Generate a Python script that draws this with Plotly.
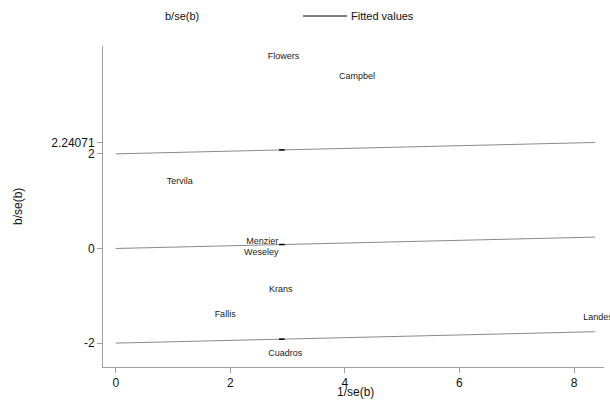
import plotly.graph_objects as go

# Study labels and positions (1/se(b), b/se(b))
studies = ["Flowers", "Campbel", "Tervila", "Menzier", "Weseley", "Krans", "Fallis", "Cuadros", "Landesman"]
inv_se = [2.93, 4.21, 1.12, 2.56, 2.54, 2.88, 1.91, 2.96, 8.16]
z_val = [4.06, 3.64, 1.41, 0.15, -0.08, -0.88, -1.39, -2.23, -1.47]
text_pos = ["middle center"] * 8 + ["middle right"]

# Fitted line (regression through origin) and +/-2 bands
fit_x = [0.0, 8.37]
fit_y = [0.0, 0.24071]
band = 2.0
mark_x = 2.9

x_ticks = [0, 2, 4, 6, 8]
y_ticks = [-2, 0, 2, 2.24071]
y_tick_text = ["-2", "0", "2", "2.24071"]

fig = go.Figure()
line_style = dict(color="#8a8a8a", width=1)
for off in (band, 0.0, -band):
    fig.add_trace(go.Scatter(x=fit_x, y=[v + off for v in fit_y], mode="lines",
                             line=line_style, showlegend=False, hoverinfo="skip"))

slope = fit_y[1] / fit_x[1]
fig.add_trace(go.Scatter(x=[mark_x] * 3,
                         y=[mark_x * slope + off for off in (band, 0.0, -band)],
                         mode="markers",
                         marker=dict(symbol="line-ew", size=4, line=dict(color="black", width=1.5)),
                         showlegend=False, hoverinfo="skip"))

fig.add_trace(go.Scatter(x=inv_se, y=z_val, mode="text", text=studies,
                         textposition=text_pos, cliponaxis=False,
                         textfont=dict(family="Liberation Sans, Arial", size=9, color="#222"),
                         showlegend=False))

L, R, T, B = 103, 6, 46, 35
W, H = 610, 402
pw = W - L - R
ph = H - T - B

def px(xp):
    return (xp - L) / pw

def py(yp):
    return (H - B - yp) / ph

fig.update_layout(
    width=W, height=H,
    margin=dict(l=L, r=R, t=T, b=B),
    paper_bgcolor="white", plot_bgcolor="white",
    font=dict(family="Liberation Sans, Arial", size=12, color="#111"),
    showlegend=False,
    xaxis=dict(range=[-0.222, 8.523], tickvals=x_ticks, showgrid=False, zeroline=False,
               showline=True, linecolor="#a0a0a0", linewidth=1, ticks="outside",
               ticklen=5, tickcolor="#a0a0a0", tickfont=dict(size=12), automargin=False),
    yaxis=dict(range=[-2.505, 4.28], tickvals=y_ticks, ticktext=y_tick_text,
               showgrid=False, zeroline=False,
               showline=True, linecolor="#a0a0a0", linewidth=1, ticks="outside",
               ticklen=5, tickcolor="#a0a0a0", tickfont=dict(size=12), automargin=False),
    annotations=[
        dict(text="b/se(b)", x=px(182), y=py(16), xref="paper", yref="paper", showarrow=False,
             xanchor="center", yanchor="middle", font=dict(size=11)),
        dict(text="Fitted values", x=px(349), y=py(16), xref="paper", yref="paper", showarrow=False,
             xanchor="left", yanchor="middle", font=dict(size=11)),
        dict(text="1/se(b)", x=px(355), y=py(392), xref="paper", yref="paper", showarrow=False,
             xanchor="center", yanchor="middle", font=dict(size=12)),
        dict(text="b/se(b)", x=px(18), y=py(207), xref="paper", yref="paper", showarrow=False,
             xanchor="center", yanchor="middle", textangle=-90, font=dict(size=12)),
    ],
)
fig.add_shape(type="line", xref="paper", yref="paper",
              x0=px(303), x1=px(347), y0=py(16), y1=py(16),
              line=dict(color="black", width=1))

fig.write_html("out.html", config={"displayModeBar": False},
               post_script="document.body.style.margin='0';document.body.style.overflow='hidden';")
